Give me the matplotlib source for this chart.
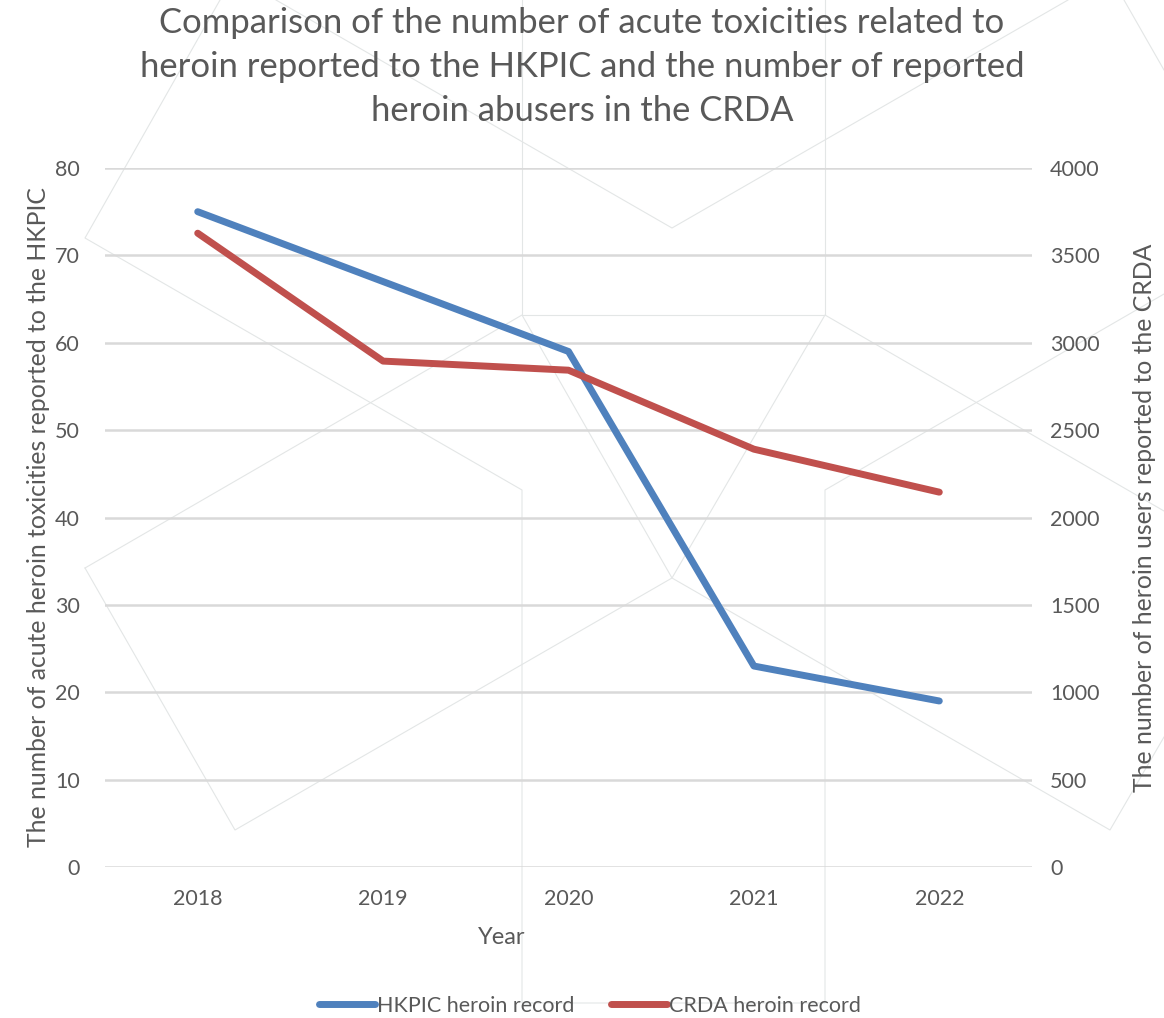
import matplotlib
matplotlib.use('Agg')
import matplotlib.pyplot as plt

plt.rcParams['font.family'] = ['Lato', 'DejaVu Sans']

# data
years = ['2018', '2019', '2020', '2021', '2022']
hkpic = [75, 67, 59, 23, 19]
crda = [3627, 2895, 2843, 2391, 2145]

txt = '#595959'
grid = '#d9d9d9'
blue = '#4f81bd'
red = '#c0504d'

W, H = 1164, 1018
fig = plt.figure(figsize=(W / 100, H / 100), dpi=100)

# faint decorative background pattern (pixel coords, y from top)
bg = fig.add_axes([0, 0, 1, 1], zorder=-5)
bg.set_xlim(0, W)
bg.set_ylim(H, 0)
bg.axis('off')
deco = [
    [(220, 0), (85, 238), (522, 490), (522, 1003), (825, 1003), (825, 490), (1164, 294)],
    [(276, 0), (672, 228), (1068, 0)],
    [(522, 0), (522, 315), (825, 315), (825, 0)],
    [(85, 568), (522, 315), (672, 578), (825, 315), (1164, 511)],
    [(85, 568), (235, 830), (672, 578), (1110, 830), (1164, 737)],
    [(1124, 0), (1164, 70)],
]
for seg in deco:
    xs, ys = zip(*seg)
    bg.plot(xs, ys, color='#e3e6e6', lw=0.8)

ax = fig.add_axes([105 / W, 1 - 867 / H, (1032 - 105) / W, (867 - 168) / H])
ax.set_facecolor('none')
ax2 = ax.twinx()

l1, = ax.plot(years, hkpic, color=blue, lw=5, solid_capstyle='round', solid_joinstyle='round',
              label='HKPIC heroin record')
l2, = ax2.plot(years, crda, color=red, lw=5, solid_capstyle='round', solid_joinstyle='round',
               label='CRDA heroin record')

ax.set_xlim(-0.5, 4.5)
ax.set_ylim(0, 80)
ax.set_yticks(range(0, 81, 10))
ax2.set_ylim(0, 4000)
ax2.set_yticks(range(0, 4001, 500))

ax.yaxis.grid(True, color=grid, lw=1.8)
ax.set_axisbelow(True)
for a in (ax, ax2):
    for s in a.spines.values():
        s.set_visible(False)
    a.tick_params(length=0, labelsize=15.5, labelcolor=txt)
ax.tick_params(axis='y', pad=18)
ax.tick_params(axis='x', pad=16)
ax2.tick_params(axis='y', pad=13)

ax.set_xlabel('Year', fontsize=17, color=txt, labelpad=13, x=0.428)
ax.set_ylabel('The number of acute heroin toxicities reported to the HKPIC',
              fontsize=17.8, color=txt, labelpad=4)
ax2.set_ylabel('The number of heroin users reported to the CRDA',
               fontsize=17.8, color=txt, labelpad=24)

fig.text(0.5, 1 - 67 / H,
         'Comparison of the number of acute toxicities related to\n'
         'heroin reported to the HKPIC and the number of reported\n'
         'heroin abusers in the CRDA',
         ha='center', va='center', fontsize=24.9, color=txt, linespacing=1.48)

fig.legend(handles=[l1, l2], loc='center', bbox_to_anchor=(590 / W, 1 - 1006 / H),
           ncol=2, frameon=False, fontsize=15.5, labelcolor=txt,
           handlelength=2.6, handletextpad=0.1, columnspacing=1.7)

fig.savefig('out.png', dpi=100, facecolor='white')
